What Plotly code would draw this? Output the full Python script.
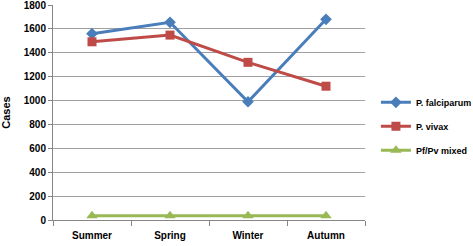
import plotly.graph_objects as go

seasons = ["Summer", "Spring", "Winter", "Autumn"]
falciparum = [1560, 1655, 990, 1680]
vivax = [1492, 1548, 1320, 1120]
mixed = [36, 36, 36, 36]
y_ticks = [0, 200, 400, 600, 800, 1000, 1200, 1400, 1600, 1800]

fig = go.Figure()
fig.add_trace(go.Scatter(x=seasons, y=falciparum, name="P. falciparum", mode="lines+markers",
                         legendgroup="a",
                         line=dict(color="#4A7EBB", width=3),
                         marker=dict(symbol="diamond", size=9, color="#4A7EBB")))
fig.add_trace(go.Scatter(x=seasons, y=vivax, name="P. vivax", mode="lines+markers",
                         legendgroup="b",
                         line=dict(color="#BE4B48", width=3),
                         marker=dict(symbol="square", size=9, color="#BE4B48")))
fig.add_trace(go.Scatter(x=seasons, y=mixed, name="Pf/Pv mixed", mode="lines+markers",
                         legendgroup="c",
                         line=dict(color="#98B954", width=3),
                         marker=dict(symbol="triangle-up", size=10, color="#98B954")))

font = "Liberation Sans, Arial, sans-serif"
fig.update_layout(
    width=473, height=246,
    margin=dict(l=53, r=108, t=5, b=26, autoexpand=False),
    paper_bgcolor="white", plot_bgcolor="white",
    font=dict(family=font, size=10, color="black"),
    showlegend=True,
    legend=dict(x=1.035, y=0.615, xanchor="left", yanchor="top",
                font=dict(size=9, family=font, weight="bold"),
                tracegroupgap=5, itemwidth=30, bgcolor="rgba(0,0,0,0)"),
    xaxis=dict(type="category", range=[-0.5, 3.5], showgrid=False, showline=True,
               linecolor="#868686", linewidth=1, automargin=False,
               ticks="outside", tickson="boundaries", ticklen=5, tickcolor="#868686",
               tickfont=dict(size=10, weight="bold"), ticklabelstandoff=6),
    yaxis=dict(range=[0, 1800], tickvals=y_ticks, showgrid=True, gridcolor="#A0A0A0", gridwidth=1,
               showline=True, linecolor="#868686", linewidth=1, zeroline=False, automargin=False,
               ticks="outside", ticklen=4, tickcolor="#868686", ticklabeloverflow="allow",
               tickfont=dict(size=10, weight="bold"),
               title=dict(text="Cases", font=dict(size=11, weight="bold"), standoff=17)),
)
fig.write_html("out.html", config={"displayModeBar": False},
               post_script="document.body.style.margin='0';")
